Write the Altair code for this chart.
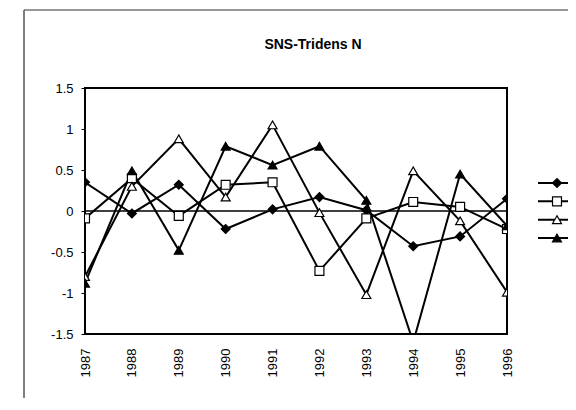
import altair as alt
import pandas as pd

years = [1987, 1988, 1989, 1990, 1991, 1992, 1993, 1994, 1995, 1996]
series_names = ["Serie 1", "Serie 2", "Serie 3", "Serie 4"]
s1 = [0.35, -0.03, 0.32, -0.22, 0.02, 0.17, 0.01, -0.43, -0.31, 0.15]
s2 = [-0.09, 0.40, -0.06, 0.32, 0.35, -0.73, -0.09, 0.11, 0.05, -0.22]
s3 = [-0.80, 0.30, 0.88, 0.17, 1.05, -0.02, -1.02, 0.49, -0.12, -0.99]
s4 = [-0.88, 0.49, -0.48, 0.79, 0.56, 0.79, 0.13, -1.60, 0.45, -0.18]
y_ticks = [1.5, 1, 0.5, 0, -0.5, -1, -1.5]
title_text = "SNS-Tridens N"

rows = []
for name, vals in zip(series_names, [s1, s2, s3, s4]):
    for yr, v in zip(years, vals):
        rows.append({"year": yr, "value": v, "series": name})
df = pd.DataFrame(rows)
leg_df = pd.DataFrame({"series": series_names, "idx": list(range(len(series_names)))})

FONT = "Liberation Sans"
shape_scale = alt.Scale(domain=series_names, range=["diamond", "square", "triangle-up", "triangle-up"])
fill_scale = alt.Scale(domain=series_names, range=["black", "white", "white", "black"])

x_enc = alt.X("year:Q", scale=alt.Scale(domain=[1987, 1996], nice=False, zero=False),
              axis=alt.Axis(values=years, format="d", labelAngle=270, tickSize=0, ticks=False,
                            labelPadding=14, domain=False, grid=False, title=None,
                            labelFont=FONT, labelFontSize=13, labelColor="black"))
y_enc = alt.Y("value:Q", scale=alt.Scale(domain=[-1.5, 1.5], nice=False, zero=False),
              axis=alt.Axis(values=y_ticks, labelExpr="toString(datum.value)", tickSize=4,
                            tickColor="black", labelPadding=8, domain=False, grid=False, title=None,
                            labelFont=FONT, labelFontSize=13, labelColor="black"))

base = alt.Chart(df)
lines = base.mark_line(color="black", strokeWidth=2, clip=True).encode(
    x=x_enc, y=y_enc, detail="series:N", order="year:Q")
points = base.mark_point(filled=True, stroke="black", strokeWidth=1.2, size=80, opacity=1, clip=True).encode(
    x="year:Q", y="value:Q",
    shape=alt.Shape("series:N", scale=shape_scale, legend=None),
    fill=alt.Fill("series:N", scale=fill_scale, legend=None))
zero = alt.Chart(pd.DataFrame({"z": [0]})).mark_rule(color="black", strokeWidth=1.3).encode(y="z:Q")

title = alt.Chart(pd.DataFrame({"t": [title_text]})).mark_text(
    font=FONT, fontSize=14, fontWeight="bold", color="black", align="center", baseline="middle"
).encode(text="t:N", x=alt.value(228), y=alt.value(-43))

frame_left = alt.Chart(pd.DataFrame({"a": [0]})).mark_rule(color="black", strokeWidth=1).encode(
    x=alt.value(-61), y=alt.value(-78), y2=alt.value(330))
frame_top = alt.Chart(pd.DataFrame({"a": [0]})).mark_rule(color="#333333", strokeWidth=1).encode(
    x=alt.value(-61), x2=alt.value(500), y=alt.value(-78))

main = alt.layer(zero, lines, points, title, frame_left, frame_top)

ly = alt.Y("idx:Q", scale=alt.Scale(domain=[0, 3], range=[95, 150]), axis=None)
leg_lines = alt.Chart(leg_df).mark_rule(color="black", strokeWidth=2).encode(
    x=alt.value(453), x2=alt.value(490), y=ly)
leg_points = alt.Chart(leg_df).mark_point(filled=True, stroke="black", strokeWidth=1.2, size=80, opacity=1).encode(
    x=alt.value(472), y="idx:Q",
    shape=alt.Shape("series:N", scale=shape_scale, legend=None),
    fill=alt.Fill("series:N", scale=fill_scale, legend=None))
legend = alt.layer(leg_lines, leg_points)

chart = alt.layer(main, legend).resolve_scale(y="independent").properties(
    width=422, height=246,
    padding={"left": 77, "top": 80, "right": 61, "bottom": 64},
    autosize=alt.AutoSizeParams(type="none"),
    background="white",
).configure_view(stroke="black", strokeWidth=2)

chart.save("out.html", embed_options={"renderer": "svg", "actions": False})
